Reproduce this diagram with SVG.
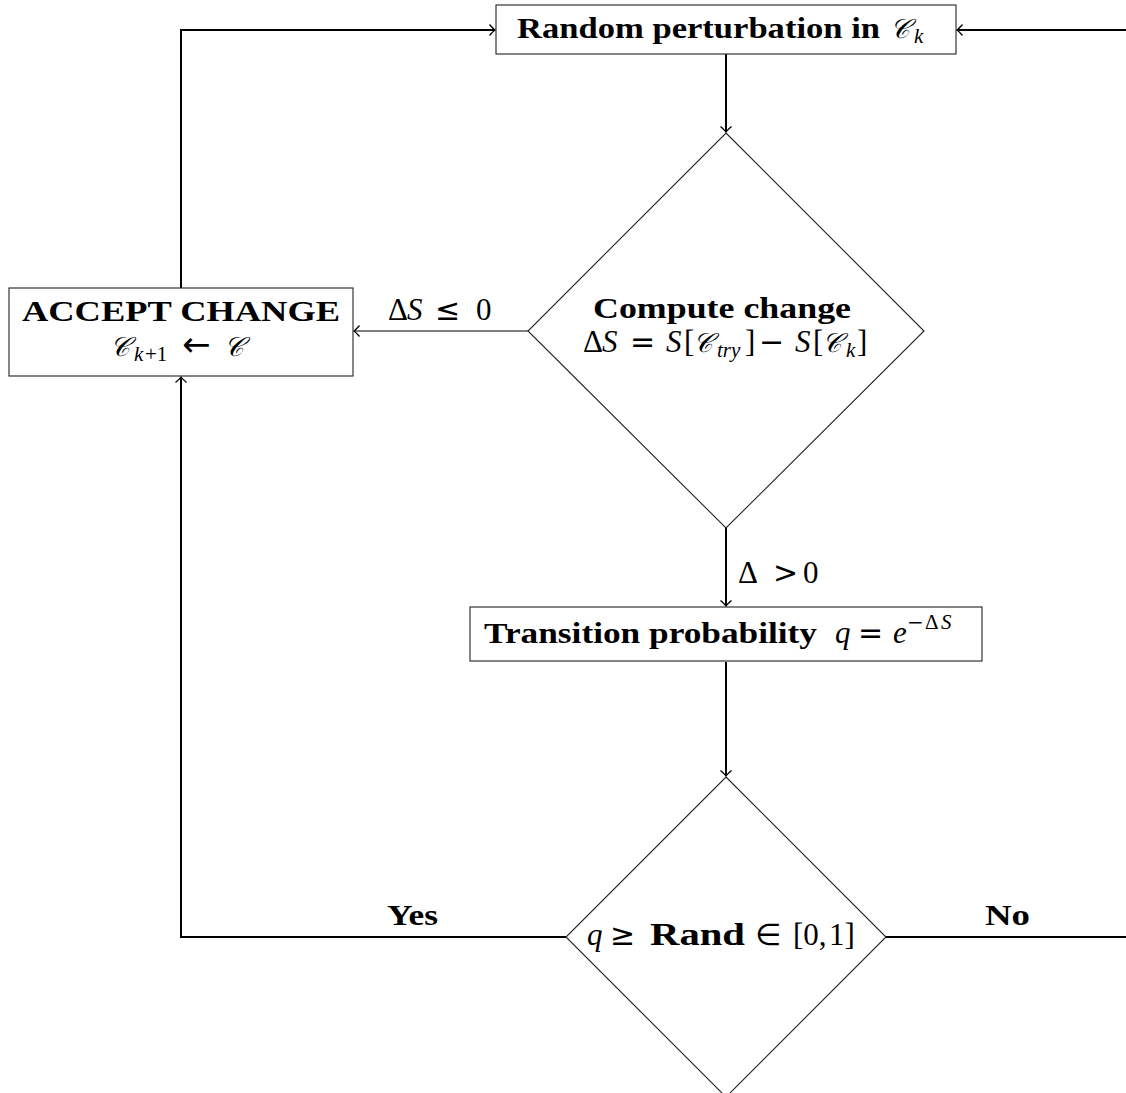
<svg xmlns="http://www.w3.org/2000/svg" width="1126" height="1093" viewBox="0 0 1126 1093">
<defs>
<style>
.node{fill:#fff;stroke:#222;stroke-width:1.1}
.thick{fill:none;stroke:#000;stroke-width:2}
.thin{fill:none;stroke:#000;stroke-width:1.1}
.b{font-family:"Liberation Serif",serif;font-weight:bold;font-size:29px;fill:#000}
.m{font-family:"Liberation Serif",serif;font-size:31px;fill:#000}
.i{font-style:italic}
.s{font-size:21px}
.op{font-family:"DejaVu Sans",sans-serif;font-size:30px;font-style:normal}
.cal{font-family:"DejaVu Serif","Liberation Serif",serif;font-style:italic;font-size:27px}
</style>
<marker id="to" viewBox="-7 -7 9 14" refX="0" refY="0" markerWidth="9" markerHeight="14" orient="auto" markerUnits="userSpaceOnUse">
<path d="M-5.5,-5.5 Q-1.5,-1 0,0 Q-1.5,1 -5.5,5.5" fill="none" stroke="#000" stroke-width="1.3"/>
</marker>
</defs>
<rect width="1126" height="1093" fill="#fff"/>
<g id="connectors">
<path class="thick" d="M726,54 V132" marker-end="url(#to)"/>
<path class="thin" d="M528,331 H354" marker-end="url(#to)"/>
<path class="thick" d="M181,288 V30 H495" marker-end="url(#to)"/>
<path class="thick" d="M726,528 V606" marker-end="url(#to)"/>
<path class="thick" d="M726,662 V776" marker-end="url(#to)"/>
<path class="thick" d="M566,937 H181 V377" marker-end="url(#to)"/>
<path class="thick" d="M886,937 H1132 V30 H957" marker-end="url(#to)"/>
<text class="m" y="320"><tspan x="388">Δ</tspan><tspan class="i" x="407">S</tspan><tspan class="op" x="435">≤</tspan><tspan x="476">0</tspan></text>
<text class="m" y="583"><tspan x="738">Δ</tspan><tspan class="op" x="773">&gt;</tspan><tspan x="803">0</tspan></text>
<text class="b" x="387" y="925" textLength="51" lengthAdjust="spacingAndGlyphs">Yes</text>
<text class="b" x="985" y="925" textLength="45" lengthAdjust="spacingAndGlyphs">No</text>
</g>
<g id="perturb">
<rect class="node" x="496" y="5" width="460" height="49"/>
<text class="b" x="517" y="38" textLength="363" lengthAdjust="spacingAndGlyphs">Random perturbation in</text>
<text class="m" y="38"><tspan class="cal" x="890">𝒞</tspan><tspan class="i s" x="914" dy="5">k</tspan></text>
</g>
<g id="accept">
<rect class="node" x="9" y="288" width="344" height="88"/>
<text class="b" x="22" y="321" textLength="318" lengthAdjust="spacingAndGlyphs">ACCEPT CHANGE</text>
<text class="m" y="356"><tspan class="cal" x="110">𝒞</tspan><tspan class="i s" x="134" dy="5">k</tspan><tspan class="s" x="145">+1</tspan><tspan class="op" x="182" dy="-5" style="font-size:34px">←</tspan><tspan class="cal" x="224">𝒞</tspan></text>
</g>
<g id="compute">
<polygon class="node" points="726,133 924,331 726,528 528,331"/>
<text class="b" x="593" y="318" textLength="258" lengthAdjust="spacingAndGlyphs">Compute change</text>
<text class="m" y="352"><tspan x="583">Δ</tspan><tspan class="i" x="602">S</tspan><tspan class="op" x="630">=</tspan><tspan class="i" x="666">S</tspan><tspan x="684">[</tspan><tspan class="cal" x="693">𝒞</tspan><tspan class="i s" x="717" dy="5">try</tspan><tspan x="745" dy="-5">]</tspan><tspan class="op" x="759">−</tspan><tspan class="i" x="795">S</tspan><tspan x="813">[</tspan><tspan class="cal" x="822">𝒞</tspan><tspan class="i s" x="846" dy="5">k</tspan><tspan x="857" dy="-5">]</tspan></text>
</g>
<g id="transition">
<rect class="node" x="470" y="607" width="512" height="54"/>
<text class="b" x="484" y="643" textLength="333" lengthAdjust="spacingAndGlyphs">Transition probability</text>
<text class="m" y="643"><tspan class="i" x="835">q</tspan><tspan class="op" x="858">=</tspan><tspan class="i" x="893">e</tspan><tspan class="op" x="907" dy="-14" style="font-size:20px">−</tspan><tspan class="s" x="925">Δ</tspan><tspan class="s i" x="941">S</tspan></text>
</g>
<g id="decide">
<polygon class="node" points="726,777 886,937 726,1097 566,937"/>
<text class="m" y="945"><tspan class="i" x="587">q</tspan><tspan class="op" x="610">≥</tspan><tspan font-weight="bold" x="650" textLength="95" lengthAdjust="spacingAndGlyphs">Rand</tspan><tspan class="op" x="755">∈</tspan><tspan x="793">[0,</tspan><tspan x="829">1]</tspan></text>
</g>
</svg>
